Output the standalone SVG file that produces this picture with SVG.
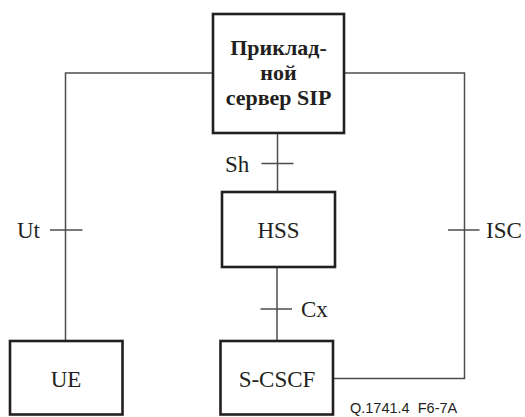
<svg xmlns="http://www.w3.org/2000/svg" width="525" height="417" viewBox="0 0 525 417">
<style>
.box{fill:#fff;stroke:#231f20;stroke-width:2.6}
.ln{fill:none;stroke:#4d4d4d;stroke-width:1.5}
.t{font-family:'Liberation Serif','Times New Roman',Times,serif;font-size:23px;fill:#231f20}
.b{font-weight:bold;font-size:22px;text-anchor:middle}
.m{text-anchor:middle}
.q{font-family:'Liberation Sans',Arial,sans-serif;font-size:14.5px;fill:#231f20}
</style>
<rect width="525" height="417" fill="#fff"/>
<g id="connectors">
<polyline class="ln" points="213,73 65.5,73 65.5,341"/>
<line class="ln" x1="50" y1="230" x2="82.5" y2="230"/>
<polyline class="ln" points="344,73 464.5,73 464.5,378.5 333,378.5"/>
<line class="ln" x1="448" y1="230" x2="479.5" y2="230"/>
<line class="ln" x1="277.5" y1="133" x2="277.5" y2="192"/>
<line class="ln" x1="261.5" y1="163.5" x2="293.5" y2="163.5"/>
<line class="ln" x1="277" y1="267" x2="277" y2="341"/>
<line class="ln" x1="260.5" y1="309" x2="292" y2="309"/>
<text class="t" x="17" y="238" font-family="Liberation Serif, serif">Ut</text>
<text class="t" x="486" y="238" font-family="Liberation Serif, serif">ISC</text>
<text class="t" x="225" y="172" font-family="Liberation Serif, serif">Sh</text>
<text class="t" x="301" y="317" font-family="Liberation Serif, serif">Cx</text>
</g>
<g id="app-server">
<rect class="box" x="213" y="14" width="131" height="119"/>
<text class="t b" x="278.5" y="55">Приклад-</text>
<text class="t b" x="278.5" y="80">ной</text>
<text class="t b" x="278.5" y="105">сервер SIP</text>
</g>
<g id="hss">
<rect class="box" x="222" y="192" width="113" height="75"/>
<text class="t m" x="278.5" y="238">HSS</text>
</g>
<g id="ue">
<rect class="box" x="10" y="341" width="112.5" height="73.5"/>
<text class="t m" x="66" y="387">UE</text>
</g>
<g id="s-cscf">
<rect class="box" x="220.5" y="341" width="112.5" height="73.5"/>
<text class="t m" x="277" y="387">S-CSCF</text>
</g>
<text class="q" x="350" y="413" xml:space="preserve">Q.1741.4  F6-7A</text>
</svg>
